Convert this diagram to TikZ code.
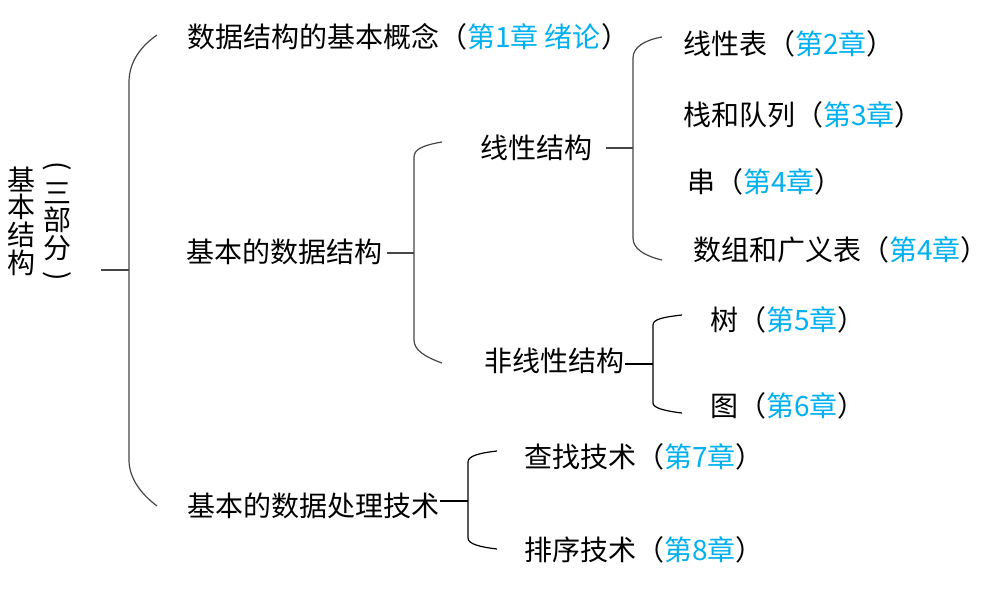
\documentclass[tikz,border=0pt]{standalone}
\usepackage{fontspec}
\newfontfamily\cjk{Noto Sans CJK SC}
\definecolor{mblue}{RGB}{0,176,240}
\definecolor{lgray}{RGB}{70,70,70}
\newcommand{\blu}[1]{\textcolor{mblue}{#1}}
\tikzset{
  txt/.style={anchor=base west,inner sep=0pt,font=\cjk\fontsize{28}{34}\selectfont},
  vch/.style={anchor=center,inner sep=0pt,font=\cjk\fontsize{28}{34}\selectfont},
  br/.style={draw=lgray,line width=1.2pt},
  brk/.style={draw=black,line width=1.2pt}
}
\begin{document}
\begin{tikzpicture}[x=1pt,y=-1pt]
\useasboundingbox[fill=white] (0,0) rectangle (1003,589);
% left vertical text
\node[vch] (v1) at (22,179) {基};
\node[vch] (v2) at (22,207) {本};
\node[vch] (v3) at (22,235) {结};
\node[vch] (v4) at (22,263) {构};
\node[vch,rotate=-90] (w1) at (57,166) {(};
\node[vch] (w2) at (57,193) {三};
\node[vch] (w3) at (57,220) {部};
\node[vch] (w4) at (57,248) {分};
\node[vch,rotate=-90] (w5) at (57,276) {)};
% level 1
\node[txt] (a1) at (187,47.5) {数据结构的基本概念（\blu{第1章 绪论}）};
\node[txt] (a2) at (186,262.5) {基本的数据结构};
\node[txt] (a3) at (187,516.5) {基本的数据处理技术};
% level 2
\node[txt] (b1) at (480,158.5) {线性结构};
\node[txt] (b2) at (484,371.5) {非线性结构};
\node[txt] (c1) at (524,467.5) {查找技术（\blu{第7章}）};
\node[txt] (c2) at (524,560.5) {排序技术（\blu{第8章}）};
% level 3
\node[txt] (d1) at (683,54.5) {线性表（\blu{第2章}）};
\node[txt] (d2) at (683,125.5) {栈和队列（\blu{第3章}）};
\node[txt] (d3) at (687,192.5) {串（\blu{第4章}）};
\node[txt] (d4) at (693,260.5) {数组和广义表（\blu{第4章}）};
\node[txt] (e1) at (710,330.5) {树（\blu{第5章}）};
\node[txt] (e2) at (710,416.5) {图（\blu{第6章}）};
% bracket coordinates
\coordinate (s1) at (101,270); \coordinate (j1) at (129,270);
\coordinate (t1) at (157,35);  \coordinate (u1) at (157,506);
\coordinate (s2) at (387,253); \coordinate (j2) at (414,253);
\coordinate (t2) at (442,142); \coordinate (u2) at (442,363);
\coordinate (s3) at (606,148); \coordinate (j3) at (633,148);
\coordinate (t3) at (662,37);  \coordinate (u3) at (662,260);
\coordinate (s4) at (625,364); \coordinate (j4) at (653,364);
\coordinate (t4) at (682,315); \coordinate (u4) at (682,413);
\coordinate (s5) at (440,501); \coordinate (j5) at (468,501);
\coordinate (t5) at (497,451); \coordinate (u5) at (497,549);
% bracket 1
\draw[br] (s1) -- (j1);
\draw[br] (t1) .. controls (141,46) and (129,62) .. (129,82) -- (129,460)
  .. controls (129,478) and (141,494) .. (u1);
% bracket 2
\draw[br] (s2) -- (j2);
\draw[br] (t2) .. controls (424,145) and (414,149) .. (414,157) -- (414,340)
  .. controls (414,350) and (425,357) .. (u2);
% bracket 3
\draw[br] (s3) -- (j3);
\draw[br] (t3) .. controls (645,40) and (633,47) .. (633,58) -- (633,238)
  .. controls (633,249) and (645,256) .. (u3);
% bracket 4
\draw[brk] (s4) -- (j4);
\draw[brk] (t4) .. controls (664,317) and (653,319) .. (653,325) -- (653,403)
  .. controls (653,408) and (665,411) .. (u4);
% bracket 5
\draw[brk] (s5) -- (j5);
\draw[brk] (t5) .. controls (479,453) and (468,456) .. (468,462) -- (468,538)
  .. controls (468,544) and (480,547) .. (u5);
\end{tikzpicture}
\end{document}
